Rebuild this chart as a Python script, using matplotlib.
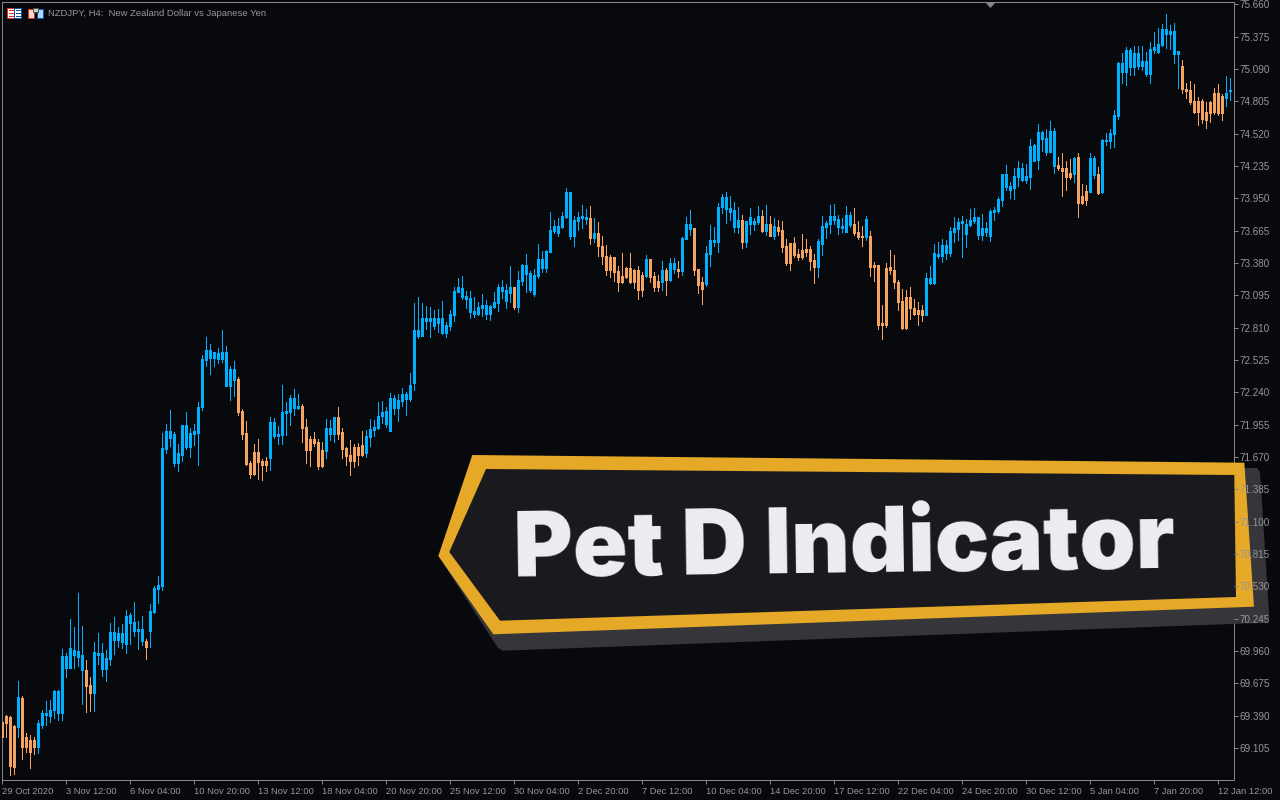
import matplotlib
matplotlib.use('Agg')
import matplotlib.pyplot as plt
from matplotlib.patches import Polygon, Rectangle
import numpy as np

BG = '#08090d'
BLUE = '#00b0ff'
ORANGE = '#f4a460'
GREY = '#85858c'
TEXT = '#96969c'

highs = [
    69.331, 69.392, 69.386, 69.307, 69.695, 69.563, 69.237, 69.219, 69.201, 69.351,
    69.439, 69.519, 69.527, 69.616, 69.616, 69.977, 69.942, 70.241, 70.171, 70.470,
    70.179, 69.880, 69.730, 70.039, 70.118, 70.030, 69.968, 70.206, 70.259, 70.171,
    70.197, 70.320, 70.294, 70.391, 70.224, 70.268, 70.065, 70.373, 70.532, 70.620,
    71.880,
    71.960, 72.083, 71.889, 71.783, 71.951, 72.065, 71.924, 71.960, 72.154, 72.568,
    72.726, 72.665, 72.594, 72.629, 72.788, 72.647, 72.471, 72.515, 72.374, 72.092,
    71.986, 71.634, 71.783, 71.827, 71.651, 71.669, 72.021, 72.013, 71.942, 72.303,
    72.154, 72.215, 72.268, 72.224, 72.136, 72.004, 71.854, 71.889, 71.827, 71.801,
    72.004, 71.995, 72.021, 72.109, 71.924, 71.757, 71.819, 71.783, 71.792, 71.898,
    71.907, 72.004, 71.995, 72.154, 72.162, 72.109,
    72.232, 72.215, 72.224, 72.277, 72.241, 72.409, 73.025, 73.078, 73.025, 72.999,
    72.990, 72.964, 72.973,
    73.043, 72.858, 72.964, 73.166, 73.246, 73.263, 73.131, 73.131, 73.078, 73.034,
    73.105, 73.052, 73.008, 73.122, 73.193, 73.228, 73.193, 73.351, 73.166, 73.307,
    73.369, 73.457, 73.307, 73.325, 73.545, 73.483, 73.492, 73.827, 73.757, 73.774,
    73.827, 74.039, 74.003, 73.792, 73.827, 73.889, 73.853, 73.880, 73.774, 73.739,
    73.616, 73.536, 73.448, 73.431, 73.351, 73.466, 73.342, 73.466, 73.325, 73.351,
    73.298, 73.448, 73.413, 73.298, 73.272, 73.395, 73.334, 73.422, 73.422, 73.395,
    73.607, 73.783,
    73.845, 73.686, 73.325, 73.254, 73.527, 73.713, 73.695, 73.906, 73.986, 74.003,
    73.968, 73.915, 73.871, 73.801, 73.748, 73.862, 73.774, 73.880, 73.845, 73.889,
    73.792, 73.774, 73.757, 73.748, 73.589, 73.554, 73.607, 73.501, 73.633, 73.589,
    73.527, 73.457, 73.589, 73.792, 73.748, 73.889, 73.898, 73.801, 73.774, 73.880,
    73.827, 73.862, 73.748, 73.704, 73.792, 73.660, 73.387, 73.360, 73.008, 73.378,
    73.492, 73.448, 73.228, 73.149, 73.140, 73.166, 73.060, 73.034, 73.008, 73.290,
    73.351, 73.545, 73.563, 73.589, 73.580, 73.695, 73.783, 73.774, 73.792, 73.765,
    73.853, 73.862, 73.783,
    73.810, 73.739, 73.854, 73.871, 73.959, 74.162, 74.241, 74.092, 74.215, 74.277,
    74.259, 74.250, 74.470, 74.426, 74.603, 74.541, 74.559, 74.629, 74.567, 74.312,
    74.347, 74.277, 74.294, 74.312, 74.347, 74.074, 74.065, 74.347, 74.321, 74.224,
    74.470, 74.523, 74.559,
    74.726, 75.149, 75.228, 75.281, 75.272, 75.290, 75.290, 75.290, 75.237, 75.325,
    75.413, 75.448, 75.484, 75.572, 75.475, 75.492, 75.246, 75.166, 74.964, 74.981,
    74.955, 74.840, 74.823, 74.796, 74.805, 74.920, 74.955, 74.867, 75.025, 75.008,
]

lows = [
    69.204, 69.204, 68.867, 68.878, 69.201, 69.008, 69.069, 68.928, 69.052, 69.060,
    69.281, 69.307, 69.334, 69.369, 69.351, 69.351, 69.730, 69.809, 69.809, 69.827,
    69.492, 69.422, 69.431, 69.431, 69.845, 69.739, 69.695, 69.836, 69.933, 69.994,
    69.986, 69.942, 70.021, 70.091, 69.977, 70.012, 69.889, 69.994, 70.294, 70.382,
    70.497,
    71.704, 71.766, 71.590, 71.546, 71.634, 71.739, 71.669, 71.775, 71.598, 72.083,
    72.471, 72.400, 72.471, 72.497, 72.506, 72.294, 72.171, 72.206, 72.039, 71.827,
    71.598, 71.484, 71.510, 71.475, 71.466, 71.546, 71.554, 71.836, 71.783, 71.783,
    71.863, 71.951, 72.039, 72.092, 71.801, 71.616, 71.590, 71.766, 71.563, 71.581,
    71.660, 71.819, 71.801, 71.827, 71.660, 71.598, 71.510, 71.581, 71.598, 71.678,
    71.669, 71.766, 71.854, 71.916, 71.968, 71.933,
    71.898, 72.047, 71.986, 72.118, 72.039, 72.162, 72.259, 72.717, 72.735, 72.796,
    72.726, 72.796, 72.770,
    72.752, 72.726, 72.787, 72.867, 73.122, 73.060, 72.981, 72.893, 72.902, 72.920,
    72.911, 72.884, 72.875, 72.981, 72.955, 73.069, 72.981, 73.034, 72.972, 72.946,
    73.184, 73.122, 73.122, 73.087, 73.246, 73.298, 73.298, 73.475, 73.642, 73.616,
    73.686, 73.774, 73.589, 73.527, 73.668, 73.686, 73.721, 73.545, 73.563, 73.439,
    73.369, 73.272, 73.254, 73.219, 73.131, 73.201, 73.246, 73.201, 73.157, 73.060,
    73.087, 73.254, 73.210, 73.131, 73.131, 73.140, 73.096, 73.219, 73.290, 73.254,
    73.272, 73.589,
    73.624, 73.272, 73.113, 73.016, 73.175, 73.351, 73.527, 73.475, 73.818, 73.730,
    73.757, 73.651, 73.642, 73.510, 73.519, 73.633, 73.668, 73.721, 73.651, 73.624,
    73.616, 73.589, 73.624, 73.475, 73.360, 73.316, 73.431, 73.404, 73.413, 73.439,
    73.316, 73.201, 73.254, 73.448, 73.598, 73.642, 73.721, 73.633, 73.651, 73.651,
    73.695, 73.624, 73.589, 73.527, 73.580, 73.263, 73.219, 72.796, 72.708, 72.814,
    73.281, 73.157, 72.964, 72.796, 72.796, 72.884, 72.920, 72.831, 72.867, 72.920,
    73.193, 73.193, 73.422, 73.387, 73.413, 73.439, 73.563, 73.580, 73.431, 73.519,
    73.704, 73.730, 73.589,
    73.581, 73.616, 73.572, 73.757, 73.818, 73.880, 74.021, 73.951, 73.942, 74.056,
    74.100, 74.083, 74.030, 74.277, 74.206, 74.365, 74.330, 74.356, 74.171, 74.197,
    73.968, 74.021, 74.118, 74.092, 73.783, 73.898, 73.889, 74.004, 74.127, 73.986,
    73.995, 74.418, 74.391,
    74.400, 74.646, 74.964, 74.946, 75.034, 75.034, 75.087, 75.078, 75.025, 74.964,
    75.228, 75.228, 75.290, 75.272, 75.263, 75.140, 74.920, 74.876, 74.832, 74.779,
    74.699, 74.594, 74.611, 74.567, 74.620, 74.691, 74.682, 74.638, 74.761, 74.814,
]

body_top = [
    69.331, 69.386, 69.381, 69.298, 69.554, 69.545, 69.201, 69.175, 69.175, 69.325,
    69.413, 69.413, 69.439, 69.607, 69.607, 69.915, 69.915, 69.986, 69.968, 69.959,
    69.924, 69.792, 69.660, 69.950, 69.942, 69.942, 69.898, 70.127, 70.127, 70.118,
    70.118, 70.268, 70.276, 70.215, 70.153, 70.153, 70.047, 70.312, 70.514, 70.541,
    71.748,
    71.898, 71.898, 71.872, 71.704, 71.951, 71.951, 71.880, 71.898, 72.109, 72.532,
    72.612, 72.612, 72.594, 72.585, 72.594, 72.594, 72.444, 72.444, 72.356, 72.074,
    71.880, 71.616, 71.713, 71.713, 71.634, 71.634, 71.977, 71.977, 71.872, 72.065,
    72.074, 72.189, 72.189, 72.118, 72.118, 71.933, 71.827, 71.827, 71.801, 71.731,
    71.924, 71.924, 72.021, 72.021, 71.889, 71.748, 71.687, 71.757, 71.757, 71.775,
    71.854, 71.916, 71.933, 72.030, 72.065, 72.074,
    72.188, 72.188, 72.171, 72.224, 72.224, 72.303, 72.788, 72.788, 72.893, 72.893,
    72.893, 72.893, 72.893,
    72.893, 72.831, 72.928, 73.131, 73.166, 73.157, 73.087, 73.069, 72.955, 72.990,
    73.008, 73.008, 72.999, 73.034, 73.166, 73.166, 73.140, 73.166, 73.166, 73.228,
    73.360, 73.360, 73.290, 73.272, 73.413, 73.413, 73.483, 73.668, 73.704, 73.704,
    73.792, 74.003, 74.003, 73.757, 73.783, 73.792, 73.783, 73.774, 73.642, 73.642,
    73.527, 73.439, 73.431, 73.431, 73.307, 73.263, 73.334, 73.334, 73.316, 73.316,
    73.272, 73.413, 73.413, 73.263, 73.219, 73.316, 73.316, 73.378, 73.378, 73.325,
    73.598, 73.721,
    73.721, 73.686, 73.325, 73.210, 73.466, 73.580, 73.580, 73.871, 73.959, 73.959,
    73.862, 73.845, 73.757, 73.757, 73.748, 73.783, 73.748, 73.792, 73.792, 73.721,
    73.721, 73.704, 73.695, 73.668, 73.527, 73.554, 73.554, 73.457, 73.492, 73.501,
    73.501, 73.404, 73.572, 73.704, 73.730, 73.792, 73.792, 73.765, 73.704, 73.801,
    73.801, 73.721, 73.651, 73.616, 73.765, 73.616, 73.360, 73.360, 72.849, 73.334,
    73.342, 73.316, 73.210, 73.043, 73.078, 73.078, 72.981, 72.964, 72.964, 73.246,
    73.246, 73.466, 73.457, 73.536, 73.536, 73.660, 73.686, 73.739, 73.748, 73.721,
    73.757, 73.783, 73.783,
    73.686, 73.686, 73.836, 73.845, 73.942, 74.162, 74.162, 74.056, 74.144, 74.215,
    74.215, 74.144, 74.409, 74.418, 74.532, 74.532, 74.479, 74.541, 74.541, 74.241,
    74.215, 74.215, 74.171, 74.303, 74.312, 73.968, 74.012, 74.303, 74.303, 74.162,
    74.462, 74.462, 74.523,
    74.682, 75.140, 75.140, 75.254, 75.254, 75.228, 75.228, 75.158, 75.158, 75.263,
    75.281, 75.307, 75.439, 75.439, 75.422, 75.422, 75.246, 75.113, 74.911, 74.902,
    74.805, 74.805, 74.805, 74.708, 74.796, 74.876, 74.876, 74.849, 74.876, 74.902,
]

body_bottom = [
    69.204, 69.325, 68.946, 68.940, 69.290, 69.113, 69.113, 69.069, 69.113, 69.113,
    69.307, 69.395, 69.386, 69.439, 69.413, 69.413, 69.809, 69.809, 69.924, 69.906,
    69.792, 69.651, 69.589, 69.589, 69.924, 69.801, 69.801, 69.889, 70.056, 70.056,
    70.039, 70.021, 70.206, 70.135, 70.135, 70.047, 69.994, 70.135, 70.303, 70.505,
    70.532,
    71.739, 71.836, 71.616, 71.616, 71.687, 71.757, 71.757, 71.872, 71.880, 72.109,
    72.524, 72.541, 72.541, 72.532, 72.532, 72.294, 72.294, 72.347, 72.065, 71.872,
    71.607, 71.519, 71.519, 71.625, 71.598, 71.598, 71.660, 71.854, 71.854, 71.863,
    72.057, 72.065, 72.101, 72.101, 71.924, 71.731, 71.731, 71.792, 71.590, 71.590,
    71.722, 71.872, 71.872, 71.872, 71.739, 71.678, 71.634, 71.634, 71.687, 71.687,
    71.704, 71.845, 71.907, 71.924, 72.030, 71.960,
    71.898, 72.100, 72.100, 72.162, 72.180, 72.180, 72.321, 72.735, 72.735, 72.867,
    72.867, 72.823, 72.849,
    72.761, 72.761, 72.823, 72.920, 73.122, 73.078, 73.060, 72.946, 72.928, 72.928,
    72.981, 72.928, 72.928, 72.990, 73.025, 73.131, 73.043, 73.113, 72.990, 72.990,
    73.219, 73.281, 73.140, 73.105, 73.263, 73.334, 73.334, 73.475, 73.660, 73.642,
    73.695, 73.783, 73.616, 73.616, 73.748, 73.774, 73.765, 73.598, 73.598, 73.527,
    73.439, 73.316, 73.316, 73.298, 73.210, 73.210, 73.254, 73.210, 73.210, 73.140,
    73.140, 73.263, 73.254, 73.166, 73.166, 73.210, 73.228, 73.228, 73.325, 73.307,
    73.307, 73.589,
    73.677, 73.316, 73.184, 73.149, 73.193, 73.457, 73.563, 73.563, 73.871, 73.853,
    73.827, 73.695, 73.695, 73.563, 73.563, 73.721, 73.721, 73.739, 73.660, 73.660,
    73.616, 73.616, 73.660, 73.519, 73.378, 73.378, 73.448, 73.431, 73.431, 73.475,
    73.395, 73.342, 73.342, 73.545, 73.695, 73.721, 73.757, 73.695, 73.686, 73.651,
    73.713, 73.642, 73.607, 73.607, 73.607, 73.342, 73.342, 72.831, 72.831, 72.831,
    73.316, 73.210, 73.034, 72.805, 72.805, 72.981, 72.928, 72.928, 72.920, 72.920,
    73.201, 73.201, 73.439, 73.439, 73.466, 73.466, 73.651, 73.677, 73.730, 73.633,
    73.713, 73.748, 73.624,
    73.625, 73.651, 73.616, 73.827, 73.836, 73.933, 74.048, 74.021, 74.039, 74.136,
    74.109, 74.109, 74.136, 74.277, 74.285, 74.470, 74.356, 74.356, 74.233, 74.215,
    74.189, 74.136, 74.136, 74.162, 73.907, 73.907, 73.933, 74.004, 74.153, 73.995,
    74.004, 74.453, 74.453,
    74.514, 74.673, 75.061, 75.061, 75.105, 75.105, 75.113, 75.113, 75.043, 75.043,
    75.254, 75.237, 75.299, 75.395, 75.395, 75.219, 75.219, 74.911, 74.893, 74.796,
    74.708, 74.708, 74.646, 74.638, 74.699, 74.708, 74.699, 74.699, 74.832, 74.893,
]

# candle indexes drawn in orange by the indicator, everything else is blue
orange_runs = [(0, 3), (5, 8), (21, 22), (36, 36), (59, 66), (75, 80), (84, 90),
               (128, 128), (147, 147), (149, 160), (162, 164), (166, 166), (169, 169),
               (173, 175), (185, 185), (190, 190), (192, 192), (194, 203), (213, 215),
               (217, 230), (264, 267), (269, 271), (274, 274), (295, 305)]

price_ticks = [75.660, 75.375, 75.090, 74.805, 74.520, 74.235, 73.950, 73.665, 73.380, 73.095,
               72.810, 72.525, 72.240, 71.955, 71.670, 71.385, 71.100, 70.815, 70.530, 70.245,
               69.960, 69.675, 69.390, 69.105]
date_ticks = [0, 16, 32, 48, 64, 80, 96, 112, 128, 144, 160, 176, 192, 208, 224, 240, 256, 272, 288, 304]
date_labels = ['29 Oct 2020', '3 Nov 12:00', '6 Nov 04:00', '10 Nov 20:00', '13 Nov 12:00',
               '18 Nov 04:00', '20 Nov 20:00', '25 Nov 12:00', '30 Nov 04:00', '2 Dec 20:00',
               '7 Dec 12:00', '10 Dec 04:00', '14 Dec 20:00', '17 Dec 12:00', '22 Dec 04:00',
               '24 Dec 20:00', '30 Dec 12:00', '5 Jan 04:00', '7 Jan 20:00', '12 Jan 12:00']

plt.rcParams['font.family'] = ['Liberation Sans', 'DejaVu Sans']

W, H = 1280, 800
fig = plt.figure(figsize=(W / 100, H / 100), dpi=100, facecolor=BG)

# overlay in pixel coordinates: frame, toolbar icons, banner
ov = fig.add_axes([0, 0, 1, 1], zorder=1)
ov.set_xlim(0, W)
ov.set_ylim(H, 0)
ov.axis('off')

ov.plot([1.5, 1233.5, 1233.5, 1.5, 1.5], [1.5, 1.5, 779.5, 779.5, 1.5], color=GREY, lw=0.72,
        antialiased=False, zorder=2)
ov.add_patch(Polygon([(985, 2), (996, 2), (990.5, 8)], fc=GREY, ec='none', zorder=2))

# first icon
ov.add_patch(Rectangle((7, 8), 7, 10, fc='white', ec='#e03020', lw=0.72, zorder=2))
ov.add_patch(Rectangle((14, 8), 7, 10, fc='white', ec='#1050a0', lw=0.72, zorder=2))
for yy in [10, 13, 16]:
    ov.plot([9, 13], [yy, yy], color='#e03020', lw=0.72, zorder=3, antialiased=False)
    ov.plot([16, 20], [yy, yy], color='#1050a0', lw=0.72, zorder=3, antialiased=False)
# second icon
ov.add_patch(Rectangle((28, 9), 6, 9, fc='#ffd8d0', ec='#e03020', lw=0.72, zorder=2))
ov.add_patch(Rectangle((37, 9), 5.5, 9, fc='#a8dcff', ec='#1050a0', lw=0.72, zorder=2))
ov.add_patch(Rectangle((33, 7.5), 5, 4, fc='#d0d0d0', ec='#505050', lw=0.72, zorder=3))

ov.text(48, 13.5, 'NZDJPY, H4:  New Zealand Dollar vs Japanese Yen', color=TEXT, fontsize=6.8,
        va='center', ha='left', zorder=3)

# banner
shadow = [(1245, 468), (1257, 468), (1260, 472), (1269.3, 618), (1266.7, 622.7), (503.3, 650.7),
          (498, 648), (443, 563)]
gold = [(472.3, 455), (438.3, 556), (493.3, 634.3), (1254, 606.7), (1244.3, 462.7)]
inner = [(486, 469), (449.3, 552), (500, 620.7), (1236, 597), (1234.3, 475)]
ov.add_patch(Polygon(shadow, fc='#36363a', ec='none', zorder=5))
ov.add_patch(Polygon(gold, fc='#e5a927', ec='none', zorder=6))
ov.add_patch(Polygon(inner, fc='#1a1a1e', ec='none', zorder=7))
ov.text(514, 577, 'Pet D Indicator', color='#eeeff3', fontsize=65, fontweight=900,
        family=['Inter', 'DejaVu Sans'], rotation=0.8, rotation_mode='anchor',
        ha='left', va='baseline', zorder=8)

# chart
ax = fig.add_axes([2 / W, 1 - 780 / H, 1232 / W, 777.5 / H], zorder=2)
ax.patch.set_alpha(0)
for s in ax.spines.values():
    s.set_visible(False)

idx = np.arange(len(highs))
colors = np.array([BLUE] * len(highs), dtype=object)
for a, b in orange_runs:
    colors[a:b + 1] = ORANGE

ax.vlines(idx, lows, highs, colors=list(colors), lw=0.72, antialiased=False)
ax.vlines(idx, body_bottom, body_top, colors=list(colors), lw=2.16, antialiased=False,
          capstyle='butt')

ax.set_xlim(-0.08, 307.92)
ax.set_ylim(69.105 - 32.0 * 0.00881, 75.660 + 1.8 * 0.00881)

ax.yaxis.tick_right()
ax.set_yticks(price_ticks)
ax.set_yticklabels(['%.3f' % p for p in price_ticks])
ax.set_xticks(date_ticks)
ax.set_xticklabels(date_labels, ha='left')
ax.tick_params(axis='y', length=2.9, width=0.72, color=GREY, labelcolor=TEXT, labelsize=7.1, pad=1.0)
ax.tick_params(axis='x', length=2.9, width=0.72, color=GREY, labelcolor=TEXT, labelsize=6.75, pad=2.5)

fig.savefig('out.png', dpi=100, facecolor=BG)
